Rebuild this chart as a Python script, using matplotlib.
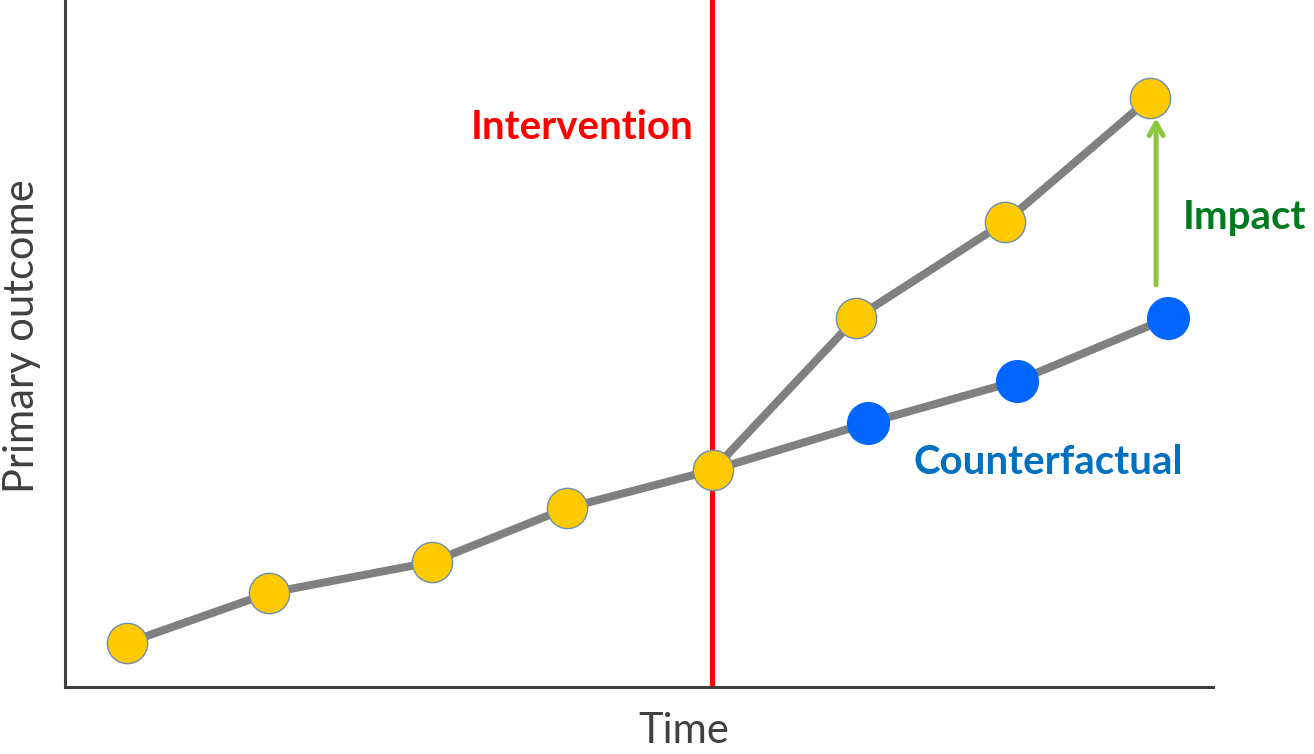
"""Interrupted time series sketch: observed outcome vs counterfactual after an intervention."""

import matplotlib
matplotlib.use("Agg")
import matplotlib.pyplot as plt

plt.rcParams["font.family"] = ["Lato", "DejaVu Sans"]

# observed series (time, outcome)
observed_time = [0.62, 2.04, 3.67, 5.02, 6.48, 7.91, 9.40, 10.85]
observed_outcome = [0.44, 0.94, 1.25, 1.79, 2.17, 3.69, 4.65, 5.89]

# counterfactual continuation from the intervention point
counter_time = [8.03, 9.52, 11.03]
counter_outcome = [2.64, 3.06, 3.69]

intervention_time = 6.47
impact_time = 10.91
impact_from, impact_to = 4.02, 5.69

LINE_GREY = "#808080"
YELLOW = "#FFC900"
BLUE = "#0066FF"

fig = plt.figure(figsize=(13.14, 7.54), dpi=100)
ax = fig.add_axes([0.0495, 0.0889, 0.8737, 0.9111])
ax.set_xlim(0, 11.48)
ax.set_ylim(0, 6.87)

ax.axvline(intervention_time, color="#FF0000", lw=3.6, zorder=1)

pivot = observed_time.index(6.48)
ax.plot([observed_time[pivot]] + counter_time,
        [observed_outcome[pivot]] + counter_outcome,
        color=LINE_GREY, lw=5.8, zorder=2, solid_capstyle="round")
ax.plot(counter_time, counter_outcome, "o", ms=30, color=BLUE,
        mec=BLUE, zorder=3)
ax.plot(observed_time, observed_outcome, color=LINE_GREY, lw=5.8, zorder=2,
        solid_capstyle="round")
ax.plot(observed_time, observed_outcome, "o", ms=29, color=YELLOW,
        mec="#6A8FB5", mew=1.0, zorder=4)

ax.annotate("", xy=(impact_time, impact_to), xytext=(impact_time, impact_from),
            arrowprops=dict(arrowstyle="->,head_length=0.9,head_width=0.5",
                            color="#8DC63F", lw=3.6, shrinkA=0, shrinkB=0))

ax.text(5.17, 5.59, "Intervention", color="#FF0000", fontsize=29,
        fontweight="bold", ha="center", va="center")
ax.text(11.18, 4.69, "Impact", color="#007A1F", fontsize=29,
        fontweight="bold", ha="left", va="center", clip_on=False)
ax.text(8.48, 2.24, "Counterfactual", color="#0070C0", fontsize=29,
        fontweight="bold", ha="left", va="center")

ax.set_xlabel("Time", fontsize=30, color="#404040", labelpad=18, x=0.539)
ax.set_ylabel("Primary outcome", fontsize=30, color="#404040", labelpad=17,
              y=0.511)

for side in ("top", "right"):
    ax.spines[side].set_visible(False)
for side in ("left", "bottom"):
    ax.spines[side].set_color("#404040")
    ax.spines[side].set_linewidth(2.2)
ax.set_xticks([])
ax.set_yticks([])

fig.savefig("out.png")
